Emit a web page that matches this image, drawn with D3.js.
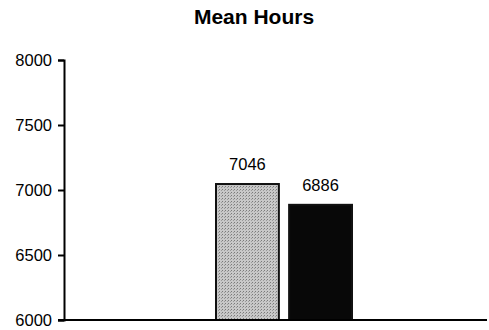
<!DOCTYPE html>
<html>
<head>
<meta charset="utf-8">
<script src="https://cdn.jsdelivr.net/npm/d3@7"></script>
<style>
  body { margin: 0; background: #fff; }
  text { font-family: "Liberation Sans", Arial, sans-serif; }
</style>
</head>
<body>
<div id="chart"></div>
<script>
const categories = ["Group A", "Group B"];
const values = [7046, 6886];
const yTicks = [6000, 6500, 7000, 7500, 8000];
const barColors = ["#bdbdbd", "#080808"];

const width = 489, height = 330;

const svg = d3.select("#chart").append("svg")
    .attr("width", width)
    .attr("height", height);

// stippled grey fill like the scanned original
const defs = svg.append("defs");
const pat = defs.append("pattern")
    .attr("id", "stipple")
    .attr("width", 3).attr("height", 3)
    .attr("patternUnits", "userSpaceOnUse");
pat.append("rect").attr("width", 3).attr("height", 3).attr("fill", "#c8c8c8");
pat.append("rect").attr("width", 1).attr("height", 1).attr("fill", "#7a7a7a");
pat.append("rect").attr("x", 2).attr("y", 1).attr("width", 1).attr("height", 1).attr("fill", "#9a9a9a");

const y = d3.scaleLinear().domain([6000, 8000]).range([320, 60]);
const x = d3.scaleBand().domain(categories).range([216, 352]).paddingInner(0.14);

svg.append("text")
    .attr("x", 254).attr("y", 24)
    .attr("text-anchor", "middle")
    .style("font-size", "21px")
    .style("font-weight", "bold")
    .text("Mean Hours");

// bars
svg.selectAll("rect.bar")
    .data(values)
    .enter().append("rect")
    .attr("class", "bar")
    .attr("x", (d, i) => x(categories[i]))
    .attr("width", x.bandwidth())
    .attr("y", d => y(d))
    .attr("height", d => y(6000) - y(d))
    .attr("fill", (d, i) => i === 0 ? "url(#stipple)" : barColors[i])
    .attr("stroke", "#111")
    .attr("stroke-width", 2);

// value labels
svg.selectAll("text.val")
    .data(values)
    .enter().append("text")
    .attr("class", "val")
    .attr("x", (d, i) => x(categories[i]) + x.bandwidth() / 2)
    .attr("y", d => y(d) - 14)
    .attr("text-anchor", "middle")
    .style("font-size", "16.5px")
    .text(d => d);

// y axis
const yAxis = d3.axisLeft(y).tickValues(yTicks).tickFormat(d3.format("d")).tickSize(6).tickPadding(6);
const gy = svg.append("g")
    .attr("transform", "translate(64,0)")
    .call(yAxis);
gy.select(".domain").attr("stroke", "#000").attr("stroke-width", 2);
gy.selectAll(".tick line").attr("stroke", "#000").attr("stroke-width", 2);
gy.selectAll(".tick text")
    .style("font-size", "16.5px")
    .style("font-family", "'Liberation Sans', Arial, sans-serif")
    .attr("fill", "#000");

// x baseline
svg.append("line")
    .attr("x1", 58).attr("x2", 487)
    .attr("y1", y(6000)).attr("y2", y(6000))
    .attr("stroke", "#000")
    .attr("stroke-width", 2);
</script>
</body>
</html>
